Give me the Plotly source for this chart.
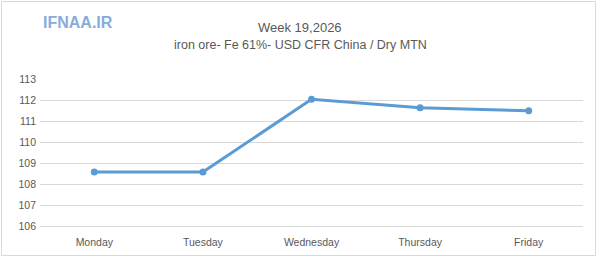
import plotly.graph_objects as go

days = ["Monday", "Tuesday", "Wednesday", "Thursday", "Friday"]
prices = [108.57, 108.57, 112.03, 111.63, 111.49]
y_ticks = [106, 107, 108, 109, 110, 111, 112, 113]
title_line1 = "Week 19,2026"
title_line2 = "iron ore- Fe 61%- USD CFR China / Dry MTN"
logo_text = "IFNAA.IR"

W, H = 600, 276
ml, mr, mt, mb = 40, 17, 79, 50
pw = W - ml - mr
ph = H - mt - mb

def px_x(x):
    return (x - ml) / pw

def px_y(y):
    return (H - mb - y) / ph

fig = go.Figure()
fig.add_trace(go.Scatter(
    x=days, y=prices, mode="lines+markers",
    line=dict(color="#5b9bd5", width=3),
    marker=dict(color="#5b9bd5", size=7),
    hoverinfo="skip",
))

font_fam = "Liberation Sans, Arial, sans-serif"
fig.update_layout(
    width=W, height=H,
    margin=dict(l=ml, r=mr, t=mt, b=mb),
    paper_bgcolor="white", plot_bgcolor="white",
    showlegend=False,
    font=dict(family=font_fam, color="#595959", size=11),
    xaxis=dict(
        type="category", range=[-0.5, 4.5], showgrid=False, zeroline=False,
        showline=True, linecolor="#d9d9d9", linewidth=1,
        ticks="", tickfont=dict(size=10.5, color="#595959"),
        ticklabelstandoff=6,
    ),
    yaxis=dict(
        range=[106, 113], tickvals=y_ticks, showgrid=True,
        gridcolor="#d9d9d9", gridwidth=1, zeroline=False, showline=False,
        ticks="", tickfont=dict(size=10.5, color="#595959"),
        ticklabelstandoff=3,
    ),
    shapes=[dict(
        type="rect", xref="paper", yref="paper",
        x0=px_x(1.5), x1=px_x(595.5), y0=px_y(255.5), y1=px_y(1.5),
        line=dict(color="#d9d9d9", width=1), fillcolor="rgba(0,0,0,0)", layer="below",
    )],
    annotations=[
        dict(text=title_line1, xref="paper", yref="paper", x=px_x(300), y=px_y(27),
             showarrow=False, xanchor="center", yanchor="middle",
             font=dict(size=13, color="#595959", family=font_fam)),
        dict(text=title_line2, xref="paper", yref="paper", x=px_x(300), y=px_y(45),
             showarrow=False, xanchor="center", yanchor="middle",
             font=dict(size=12.5, color="#595959", family=font_fam)),
        dict(text="<b>" + logo_text + "</b>", xref="paper", yref="paper", x=px_x(41), y=px_y(22.5),
             showarrow=False, xanchor="left", yanchor="middle",
             font=dict(size=16, color="#86acdc", family=font_fam)),
    ],
)

fig.write_html("out.html")
